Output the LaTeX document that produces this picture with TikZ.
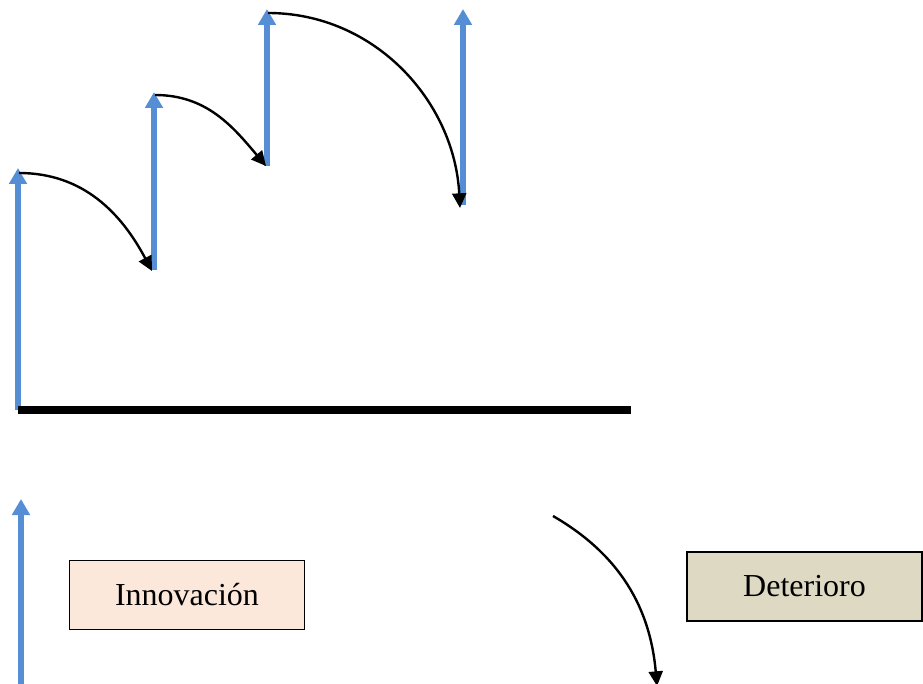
\documentclass[tikz,border=0pt]{standalone}
\usepackage{fontspec}
\setmainfont{Liberation Serif}
\usetikzlibrary{arrows.meta}
\definecolor{bluearrow}{HTML}{558ED5}
\definecolor{innofill}{HTML}{FCE8DB}
\definecolor{detfill}{HTML}{DDD9C3}
\tikzset{
  bluearr/.style={draw=bluearrow, line width=3.9pt, -{Triangle[width=13pt,length=12pt]}},
  jump/.style={draw=black, line width=1.8pt, -{Triangle[width=10.5pt,length=11pt]}},
  base/.style={draw=black, line width=6pt},
  labelbox/.style={draw=black, line width=1.2pt, font=\fontsize{24}{28}\selectfont, inner sep=0pt, minimum width=176pt, minimum height=52pt},
}
\begin{document}
\begin{tikzpicture}[x=0.75pt,y=-0.75pt]
\useasboundingbox (0,0) rectangle (923,684);
% blue arrows
\coordinate (a1s) at (18,410); \coordinate (a1e) at (18,168);
\coordinate (a2s) at (154,270); \coordinate (a2e) at (154,92);
\coordinate (a3s) at (267,166); \coordinate (a3e) at (267,9);
\coordinate (a4s) at (463,205); \coordinate (a4e) at (463,9);
\coordinate (a5s) at (21,684); \coordinate (a5e) at (21,499);
\draw[bluearr] (a1s) -- (a1e);
\draw[bluearr] (a2s) -- (a2e);
\draw[bluearr] (a3s) -- (a3e);
\draw[bluearr] (a4s) -- (a4e);
\draw[bluearr] (a5s) -- (a5e);
% base line
\coordinate (l1) at (18,410); \coordinate (l2) at (631,410);
\draw[base] (l1) -- (l2);
% black jumps
\coordinate (c1s) at (19,173); \coordinate (c1e) at (152,271);
\coordinate (c2s) at (155,95); \coordinate (c2e) at (266,166);
\coordinate (c3s) at (268,13); \coordinate (c3e) at (460,208);
\coordinate (c4s) at (553,516); \coordinate (c4e) at (657,686);
\draw[jump] (c1s) to[out=0,in=118] (c1e);
\draw[jump] (c2s) to[out=0,in=130] (c2e);
\draw[jump] (c3s) to[out=0,in=93] (c3e);
\draw[jump] (c4s) to[out=-30,in=95] (c4e);
% boxes
\node[labelbox, fill=innofill] (inno) at (187,595) {Innovación};
\node[labelbox, fill=detfill] (det) at (804.5,586.5) {Deterioro};
\end{tikzpicture}
\end{document}
